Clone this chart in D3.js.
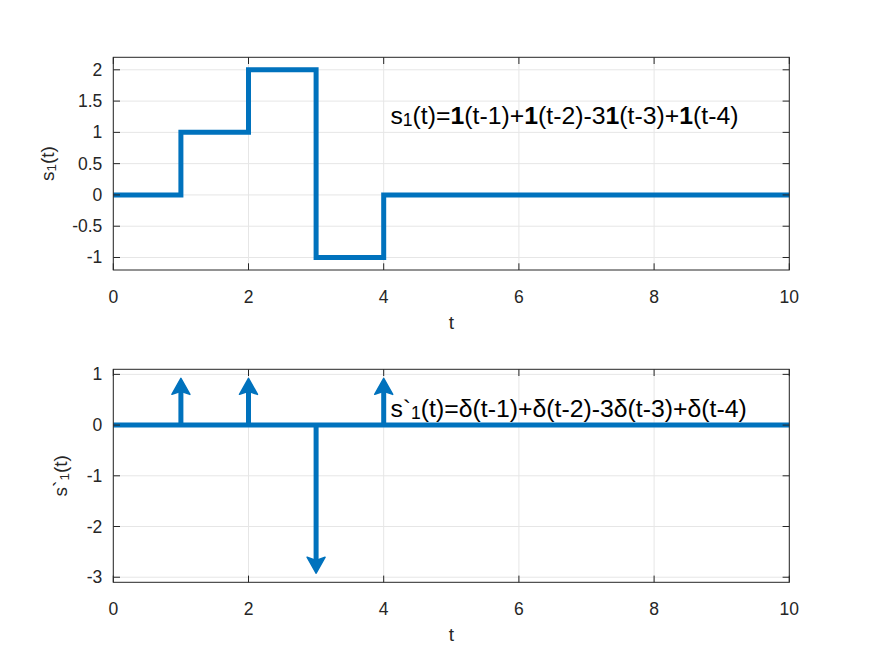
<!DOCTYPE html>
<html><head><meta charset="utf-8">
<script src="https://cdn.jsdelivr.net/npm/d3@7"></script>
<style>body{margin:0;background:#fff}svg{display:block}text{font-family:"Liberation Sans",Arial,sans-serif;fill:#262626}</style>
</head><body>
<script>
// data
const stepT = [0, 1, 2, 3, 4, 10];
const stepS = [0, 1, 2, -1, 0, 0];
const impT = [1, 2, 3, 4];
const impA = [1, 1, -3, 1];
const xTicks = [0, 2, 4, 6, 8, 10];
const yTicksTop = [-1, -0.5, 0, 0.5, 1, 1.5, 2];
const yTicksBot = [-3, -2, -1, 0, 1];

const W = 872, H = 654, BLUE = "#0072BD";
const svg = d3.select("body").append("svg").attr("width", W).attr("height", H);
const L = 113.3, R = 789.3;
const TF = 17.5, LF = 19, AF = 24.8, AS = 17.5;

function axes(top, bottom, ydom, yticks) {
  const x = d3.scaleLinear().domain([0, 10]).range([L, R]);
  const y = d3.scaleLinear().domain(ydom).range([bottom, top]);
  const g = svg.append("g");
  g.selectAll(".gx").data(xTicks).join("line").attr("x1", d => x(d)).attr("x2", d => x(d))
    .attr("y1", top).attr("y2", bottom).attr("stroke", "#e6e6e6").attr("stroke-width", 1);
  g.selectAll(".gy").data(yticks).join("line").attr("y1", d => y(d)).attr("y2", d => y(d))
    .attr("x1", L).attr("x2", R).attr("stroke", "#e6e6e6").attr("stroke-width", 1);
  const fmt = d => String(d);
  g.selectAll(".tx").data(xTicks).join("text").attr("x", d => x(d)).attr("y", bottom + 27)
    .attr("text-anchor", "middle").attr("dominant-baseline", "central").attr("font-size", TF).text(fmt);
  g.selectAll(".ty").data(yticks).join("text").attr("x", L - 11).attr("y", d => y(d))
    .attr("text-anchor", "end").attr("dominant-baseline", "central").attr("font-size", TF).text(fmt);
  g.append("text").attr("x", (L + R) / 2).attr("y", bottom + 52).attr("text-anchor", "middle")
    .attr("dominant-baseline", "central").attr("font-size", LF).text("t");
  return {x, y, g, top, bottom, yticks};
}
function frame(a) {
  const {x, y, top, bottom, yticks} = a;
  const t = 6.7;
  const fg = svg.append("g").attr("stroke", "#262626").attr("stroke-width", 1).attr("fill", "none");
  xTicks.forEach(d => {
    fg.append("line").attr("x1", x(d)).attr("x2", x(d)).attr("y1", bottom).attr("y2", bottom - t);
    fg.append("line").attr("x1", x(d)).attr("x2", x(d)).attr("y1", top).attr("y2", top + t);
  });
  yticks.forEach(d => {
    fg.append("line").attr("y1", y(d)).attr("y2", y(d)).attr("x1", L).attr("x2", L + t);
    fg.append("line").attr("y1", y(d)).attr("y2", y(d)).attr("x1", R).attr("x2", R - t);
  });
  fg.append("rect").attr("x", L).attr("y", top).attr("width", R - L).attr("height", bottom - top);
}

// top plot
const A = axes(57.3, 270, [-1.2, 2.2], yTicksTop);
const stepData = stepT.map((t, i) => [t, stepS[i]]);
svg.append("path").datum(stepData)
  .attr("d", d3.line().x(d => A.x(d[0])).y(d => A.y(d[1])).curve(d3.curveStepAfter))
  .attr("fill", "none").attr("stroke", BLUE).attr("stroke-width", 5);
frame(A);
const tl = svg.append("text").attr("transform", `translate(47,${(57.3 + 270) / 2}) rotate(-90)`)
  .attr("text-anchor", "middle").attr("dominant-baseline", "central").attr("font-size", LF);
tl.append("tspan").text("s");
tl.append("tspan").attr("font-size", 13.5).attr("dy", 4).text("1");
tl.append("tspan").attr("dy", -4).text("(t)");

const ta = svg.append("text").attr("x", A.x(4.1)).attr("y", A.y(1.27)).attr("dominant-baseline", "central")
  .attr("font-size", AF).style("fill", "#000");
ta.append("tspan").text("s");
ta.append("tspan").attr("font-size", AS).attr("dy", 5).text("1");
ta.append("tspan").attr("dy", -5).text("(t)=");
[["1", "(t-1)+"], ["1", "(t-2)-3"], ["1", "(t-3)+"], ["1", "(t-4)"]].forEach(([b, r]) => {
  ta.append("tspan").attr("font-weight", "bold").text(b);
  ta.append("tspan").text(r);
});

// bottom plot
const B = axes(369.3, 582.3, [-3.1, 1.1], yTicksBot);
svg.append("line").attr("x1", B.x(0)).attr("x2", B.x(10)).attr("y1", B.y(0)).attr("y2", B.y(0))
  .attr("stroke", BLUE).attr("stroke-width", 5);
impT.forEach((t, i) => {
  const x0 = B.x(t), y0 = B.y(0), y1 = B.y(impA[i]);
  const dir = impA[i] > 0 ? -1 : 1;
  const tip = y1 - dir * 4;
  const hl = 16, hw = 9;
  svg.append("line").attr("x1", x0).attr("x2", x0).attr("y1", y0).attr("y2", tip - dir * hl * 0.5)
    .attr("stroke", BLUE).attr("stroke-width", 5);
  svg.append("path").attr("d", `M${x0},${tip} L${x0 - hw},${tip - dir * hl} L${x0},${tip - dir * hl * 0.8} L${x0 + hw},${tip - dir * hl} Z`)
    .attr("fill", BLUE).attr("stroke", BLUE).attr("stroke-width", 1.5).attr("stroke-linejoin", "round");
});
frame(B);
const bl = svg.append("text").attr("transform", `translate(60,${(369.3 + 582.3) / 2}) rotate(-90)`)
  .attr("text-anchor", "middle").attr("dominant-baseline", "central").attr("font-size", LF);
bl.append("tspan").text("s`");
bl.append("tspan").attr("font-size", 13.5).attr("dy", 4).text("1");
bl.append("tspan").attr("dy", -4).text("(t)");

const ba = svg.append("text").attr("x", B.x(4.1)).attr("y", B.y(0.33)).attr("dominant-baseline", "central")
  .attr("font-size", AF).style("fill", "#000");
ba.append("tspan").text("s`");
ba.append("tspan").attr("font-size", AS).attr("dy", 5).text("1");
ba.append("tspan").attr("dy", -5).text("(t)=δ(t-1)+δ(t-2)-3δ(t-3)+δ(t-4)");
</script>
</body></html>
